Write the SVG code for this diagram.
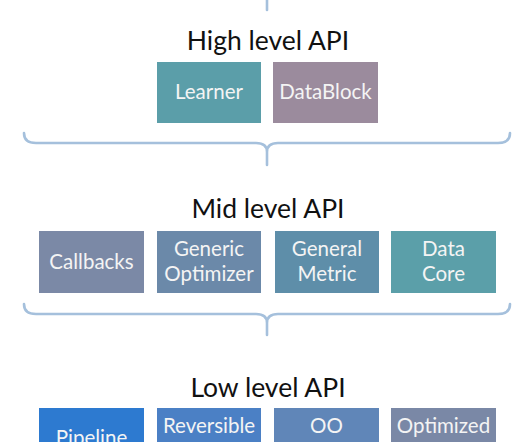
<svg xmlns="http://www.w3.org/2000/svg" width="530" height="442" viewBox="0 0 530 442">
<style>
.title{font-family:Lato,"Open Sans","DejaVu Sans",sans-serif;font-size:26.5px;fill:#111;text-anchor:middle}
.lbl{font-family:Lato,"Open Sans","DejaVu Sans",sans-serif;font-size:20.5px;fill:#f4f4f4;text-anchor:middle}
.brace{fill:none;stroke:#a5c0dc;stroke-width:2.6;stroke-linecap:round;stroke-linejoin:round}
</style>
<rect width="530" height="442" fill="#ffffff"/>
<g id="connectors">
<path class="brace" d="M267,0 V10"/>
<path class="brace" d="M24,133 Q24,143 36,143 H256 Q267,143 267,152 V165 M510,133 Q510,143 498,143 H278 Q267,143 267,152"/>
<path class="brace" d="M24,304 Q24,314 36,314 H256 Q267,314 267,323 V335 M510,304 Q510,314 498,314 H278 Q267,314 267,323"/>
</g>
<g id="high-title"><text class="title" x="268" y="50">High level API</text></g>
<g id="learner"><rect x="157" y="62" width="104" height="61" fill="#5b9ea9"/><text class="lbl" x="209" y="99">Learner</text></g>
<g id="datablock"><rect x="273" y="62" width="105" height="61" fill="#9b8b9d"/><text class="lbl" x="325.5" y="99">DataBlock</text></g>
<g id="mid-title"><text class="title" x="268" y="218">Mid level API</text></g>
<g id="callbacks"><rect x="39" y="231" width="105" height="62" fill="#7b89a6"/><text class="lbl" x="91.5" y="268.5">Callbacks</text></g>
<g id="generic-optimizer"><rect x="157" y="231" width="104" height="62" fill="#6b89a9"/><text class="lbl" x="209" y="256">Generic</text><text class="lbl" x="209" y="280.5">Optimizer</text></g>
<g id="general-metric"><rect x="275" y="231" width="104" height="62" fill="#5e8ea9"/><text class="lbl" x="327" y="256">General</text><text class="lbl" x="327" y="280.5">Metric</text></g>
<g id="data-core"><rect x="391" y="231" width="105" height="62" fill="#5b9fa9"/><text class="lbl" x="443.5" y="256">Data</text><text class="lbl" x="443.5" y="280.5">Core</text></g>
<g id="low-title"><text class="title" x="268" y="397">Low level API</text></g>
<g id="pipeline"><rect x="39" y="408" width="105" height="40" fill="#2d7ad0"/><text class="lbl" x="91.5" y="445">Pipeline</text></g>
<g id="reversible"><rect x="157" y="408" width="104" height="40" fill="#4b80c5"/><text class="lbl" x="209" y="433">Reversible</text></g>
<g id="oo"><rect x="274" y="408" width="105" height="40" fill="#6086b8"/><text class="lbl" x="326.5" y="433">OO</text></g>
<g id="optimized"><rect x="391" y="408" width="105" height="40" fill="#7a88a6"/><text class="lbl" x="443.5" y="433">Optimized</text></g>
</svg>
